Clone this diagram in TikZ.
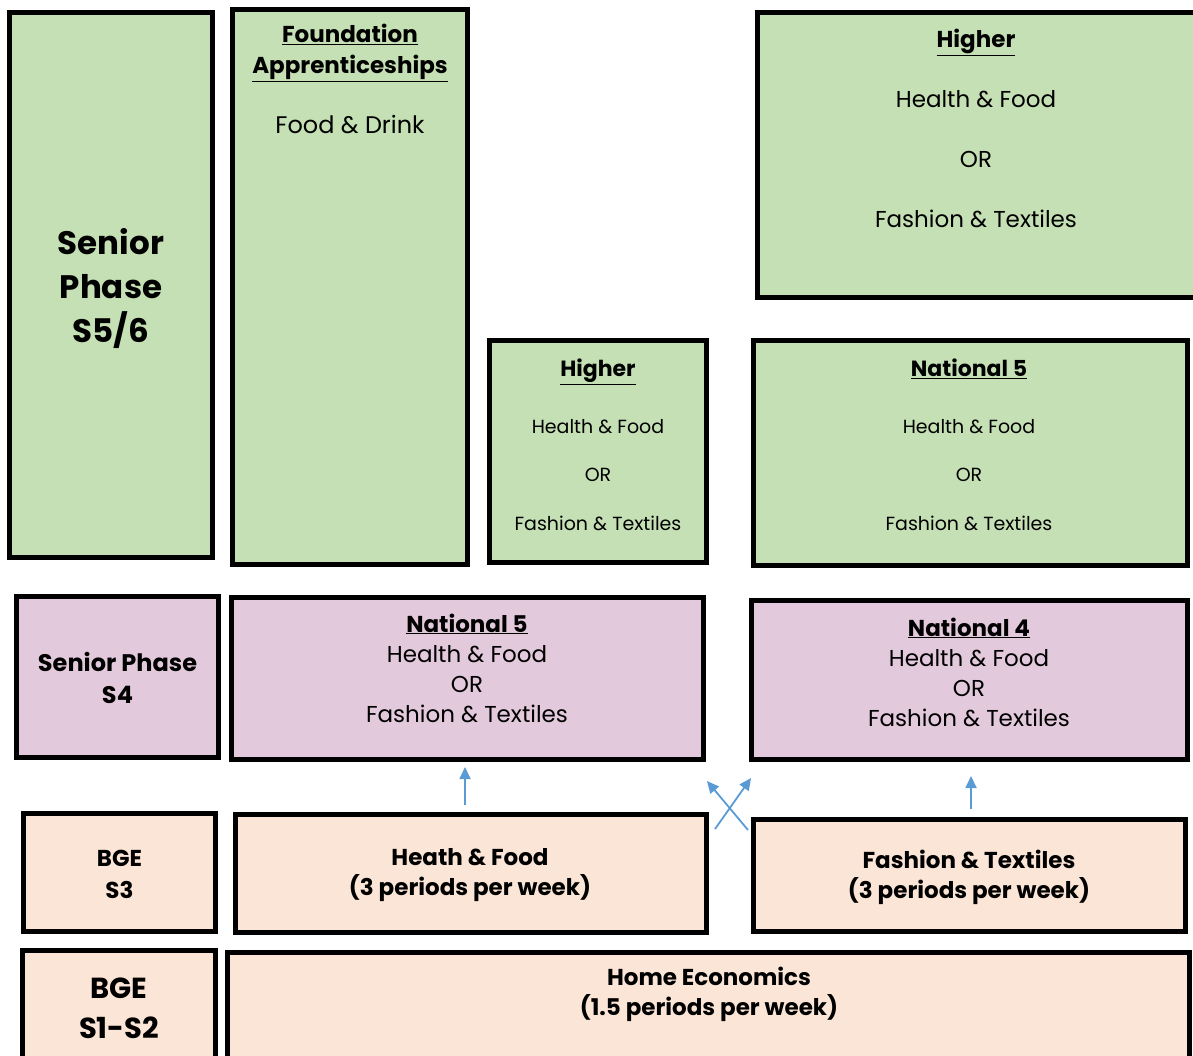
\documentclass[tikz,border=0pt]{standalone}
\usepackage{fontspec}
\setmainfont{Poppins}
\usetikzlibrary{arrows.meta}
\definecolor{grn}{HTML}{C5E0B4}
\definecolor{pur}{HTML}{E3C9DC}
\definecolor{pch}{HTML}{FBE5D6}
\definecolor{arr}{HTML}{5B9BD5}
\tikzset{
  box/.style={draw=black, line width=5pt, rectangle, inner sep=0pt, outer sep=0pt},
  gbox/.style={box, fill=grn},
  pbox/.style={box, fill=pur},
  cbox/.style={box, fill=pch},
  txt/.style={align=center, inner sep=0pt, text=black},
  conn/.style={draw=arr, line width=1.8pt, -{Triangle[length=12pt,width=11pt]}},
}
\newcommand{\ul}[1]{\underline{#1}}
\begin{document}
\begin{tikzpicture}[x=1pt, y=-1pt]
\useasboundingbox (0,0) rectangle (1193,1055);
\clip (0,0) rectangle (1193,1055);
% green row
\node[gbox, minimum width=203pt, minimum height=545pt] (s56) at (111,285) {};
\node[txt, font=\fontsize{32.5}{44}\selectfont\bfseries] (s56t) at (111,289) {Senior\\Phase\\S5/6};
\node[gbox, minimum width=235pt, minimum height=555pt] (fa) at (350,287) {};
\node[txt, font=\fontsize{23}{31}\selectfont, anchor=north] (fat) at (350,24) {\textbf{\ul{Foundation}}\\\textbf{\ul{Apprenticeships}}\\[29pt]\fontsize{24}{31}\selectfont Food \& Drink};
\node[gbox, minimum width=217pt, minimum height=222pt] (hs) at (598,451.5) {};
\node[txt, font=\fontsize{19}{24.5}\selectfont] (hst) at (598,445) {\fontsize{22}{24.5}\selectfont\textbf{\ul{Higher}}\\[32pt]Health \& Food\\[24pt]OR\\[24pt]Fashion \& Textiles};
\node[gbox, minimum width=434pt, minimum height=225pt] (n5g) at (970.5,453) {};
\node[txt, font=\fontsize{19}{24.5}\selectfont] (n5gt) at (969,445) {\fontsize{22}{24.5}\selectfont\textbf{\ul{National 5}}\\[32pt]Health \& Food\\[24pt]OR\\[24pt]Fashion \& Textiles};
\node[gbox, minimum width=438pt, minimum height=285pt] (ht) at (976.5,155) {};
\node[txt, font=\fontsize{23}{30}\selectfont] (htt) at (976,128) {\textbf{\ul{Higher}}\\[30pt]Health \& Food\\[30pt]OR\\[30pt]Fashion \& Textiles};
% purple row
\node[pbox, minimum width=202pt, minimum height=161pt] (s4) at (117.5,677) {};
\node[txt, font=\fontsize{24}{32}\selectfont\bfseries] (s4t) at (117.5,678) {Senior Phase\\S4};
\node[pbox, minimum width=472pt, minimum height=162pt] (n5p) at (467.5,678.5) {};
\node[txt, font=\fontsize{23}{30}\selectfont] (n5pt) at (467,668) {\textbf{\ul{National 5}}\\Health \& Food\\OR\\Fashion \& Textiles};
\node[pbox, minimum width=436pt, minimum height=159pt] (n4) at (969.5,680) {};
\node[txt, font=\fontsize{23}{30}\selectfont] (n4t) at (969,672) {\textbf{\ul{National 4}}\\Health \& Food\\OR\\Fashion \& Textiles};
% S3 row
\node[cbox, minimum width=192pt, minimum height=118pt] (s3) at (119.5,872.5) {};
\node[txt, font=\fontsize{23}{32}\selectfont\bfseries] (s3t) at (119.5,874) {BGE\\S3};
\node[cbox, minimum width=471pt, minimum height=118pt] (hf) at (471,873.5) {};
\node[txt, font=\fontsize{23}{30}\selectfont\bfseries] (hft) at (470,875) {Heath \& Food\\(3 periods per week)};
\node[cbox, minimum width=432pt, minimum height=112pt] (ft) at (969.5,875.5) {};
\node[txt, font=\fontsize{23}{30}\selectfont\bfseries] (ftt) at (969,877) {Fashion \& Textiles\\(3 periods per week)};
% S1-S2 row
\node[cbox, minimum width=193pt, minimum height=120pt] (s12) at (119,1010) {};
\node[txt, font=\fontsize{29}{40}\selectfont\bfseries] (s12t) at (119,1008) {BGE\\S1-S2};
\node[cbox, minimum width=962pt, minimum height=120pt] (he) at (708.5,1012) {};
\node[txt, font=\fontsize{23}{30}\selectfont\bfseries] (het) at (709,994) {Home Economics\\(1.5 periods per week)};
% arrows
\coordinate (a1s) at (465,805);
\coordinate (a1e) at (465,767);
\coordinate (a2s) at (715,829);
\coordinate (a2e) at (751,778);
\coordinate (a3s) at (748,830);
\coordinate (a3e) at (707,781);
\coordinate (a4s) at (971,809);
\coordinate (a4e) at (971,776);
\draw[conn] (a1s) -- (a1e);
\draw[conn] (a2s) -- (a2e);
\draw[conn] (a3s) -- (a3e);
\draw[conn] (a4s) -- (a4e);
\end{tikzpicture}
\end{document}
